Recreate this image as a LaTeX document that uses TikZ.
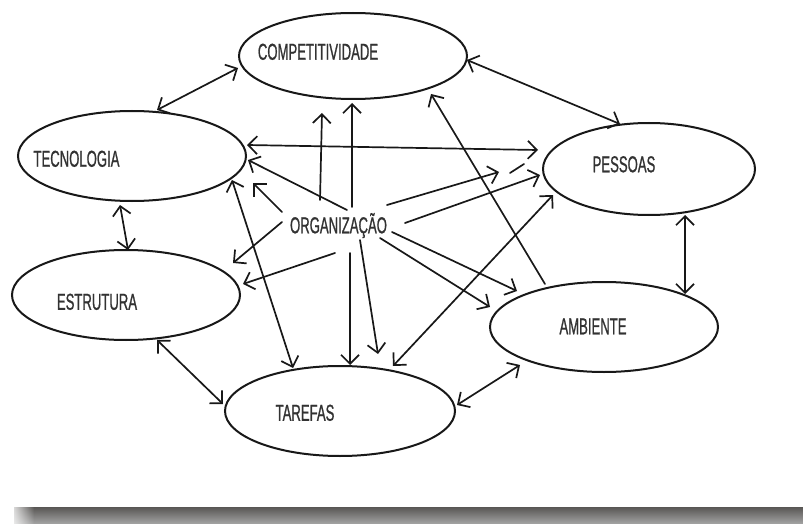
\documentclass[tikz,border=0pt]{standalone}
\usepackage{fontspec}
\newfontfamily\labelfont[FakeStretch=0.57,FakeBold=0.8]{Liberation Sans}
\usetikzlibrary{shapes.geometric,arrows.meta,calc,fadings}
\definecolor{ink}{RGB}{24,24,24}
\definecolor{labelgray}{RGB}{50,50,50}
\definecolor{barTop}{RGB}{88,86,84}
\definecolor{barBottom}{RGB}{165,165,165}

\begin{document}
\begin{tikzpicture}[x=1pt,y=-1pt,
  concept/.style={ellipse, draw=ink, line width=2pt, inner sep=0pt},
  lbl/.style={font=\labelfont\fontsize{23}{27}\selectfont, text=labelgray,
    inner sep=0pt, text height=16.5pt, text depth=0pt},
  link/.style={draw=ink, line width=1.7pt, line cap=round},
  >={Straight Barb[length=9pt,width=18pt]},
  oneway/.style={link, ->},
  twoway/.style={link, <->},
]
\useasboundingbox (0,0) rectangle (803,524);
\fill[white] (0,0) rectangle (803,524);

% page edge shadow along the bottom
\shade[top color=barTop, middle color=barTop, bottom color=barBottom]
  (14,507) rectangle (803,524);
\fill[white, path fading=east] (8,505) rectangle (34,524);

% concept ellipses
\node[concept, minimum width=228pt, minimum height=86pt] (comp) at (353,56) {};
\node[concept, minimum width=228pt, minimum height=90pt] (tec) at (132,156) {};
\node[concept, minimum width=212pt, minimum height=92pt] (pes) at (649,169) {};
\node[concept, minimum width=228pt, minimum height=90pt] (est) at (126,295) {};
\node[concept, minimum width=230pt, minimum height=90pt] (tar) at (340,411) {};
\node[concept, minimum width=228pt, minimum height=90pt] (amb) at (604,327) {};

% labels
\node[lbl] (compL) at (318,51.5) {COMPETITIVIDADE};
\node[lbl] (tecL) at (76.5,158.5) {TECNOLOGIA};
\node[lbl] (pesL) at (624,164) {PESSOAS};
\node[lbl] (estL) at (97,301.5) {ESTRUTURA};
\node[lbl] (tarL) at (305,412.5) {TAREFAS};
\node[lbl] (ambL) at (593,326) {AMBIENTE};
\node[lbl] (org) at (338.5,225) {ORGANIZAÇÃO};

% mutual relations between the outer concepts
\draw[twoway] ($(comp)+(-115,12)$) -- ($(tec)+(25,-46)$);
\draw[twoway] ($(comp)+(114,4)$) -- ($(pes)+(-29,-45)$);
\draw[twoway] ($(tec)+(-12,49)$) -- ($(est)+(2,-45)$);
\draw[twoway] ($(est)+(31,45)$) -- ($(tar)+(-117,-7)$);
\draw[twoway] ($(tar)+(117,-6)$) -- ($(amb)+(-84,38)$);
\draw[twoway] ($(pes)+(36,46)$) -- ($(amb)+(81,-33)$);
\draw[twoway] ($(tec)+(115,-11)$) -- ($(pes)+(-111,-19)$);
\draw[twoway] ($(tec)+(100,24)$) -- ($(tar)+(-47,-43)$);
\draw[twoway] ($(tar)+(53,-45)$) -- ($(pes)+(-96,26)$);
\draw[oneway] ($(amb)+(-59,-43)$) -- ($(comp)+(78,38)$);

% influences radiating from the organisation
\draw[oneway] ($(org)+(-18.5,-25)$) -- ($(comp)+(-31,57)$);
\draw[oneway] ($(org)+(13.5,-18)$) -- ($(comp)+(-1,47)$);
\draw[oneway] ($(org)+(8.5,-15)$) -- ($(tec)+(116,4)$);
\draw[oneway] ($(org)+(-56.5,-13)$) -- ($(tec)+(121,27)$);
\draw[oneway] ($(org)+(-56.5,-3)$) -- ($(est)+(107,-32)$);
\draw[oneway] ($(org)+(-3.5,28)$) -- ($(est)+(117,-11)$);
\draw[oneway] ($(org)+(11.5,28)$) -- ($(tar)+(10,-46)$);
\draw[oneway] ($(org)+(21.5,15)$) -- ($(tar)+(38,-57)$);
\draw[oneway] ($(org)+(41.5,13)$) -- ($(amb)+(-114,-20)$);
\draw[oneway] ($(org)+(53.5,7)$) -- ($(amb)+(-87,-36)$);
\draw[oneway] ($(org)+(48.5,-20)$) -- ($(pes)+(-150,3)$);
\draw[oneway] ($(org)+(66.5,-2)$) -- ($(pes)+(-109,6)$);
\draw[link] ($(pes)+(-139,4)$) -- ($(pes)+(-125,-5)$);
\end{tikzpicture}
\end{document}
